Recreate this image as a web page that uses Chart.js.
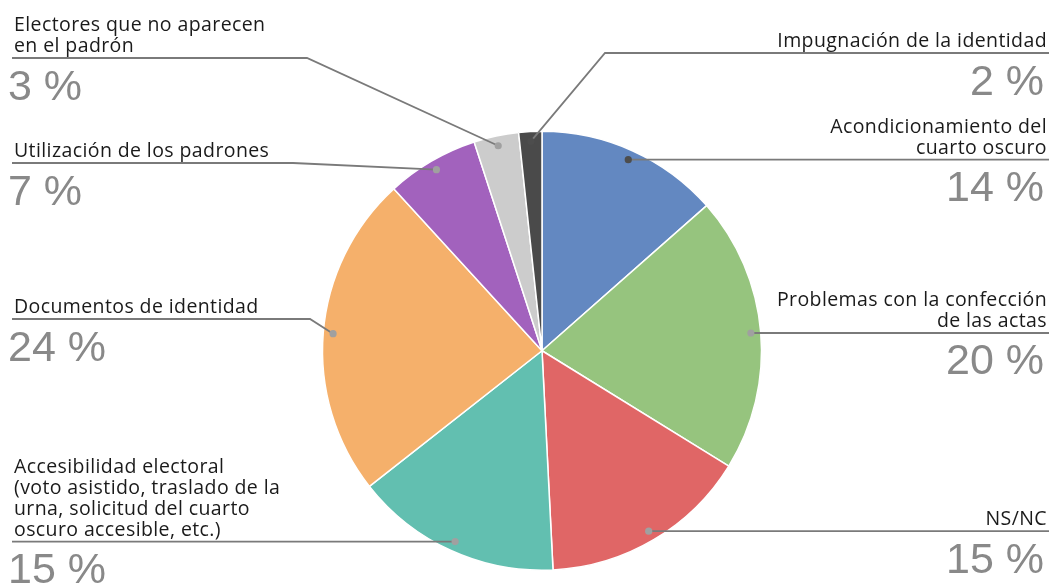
<!DOCTYPE html>
<html>
<head>
<meta charset="utf-8">
<script src="https://cdn.jsdelivr.net/npm/chart.js@4/dist/chart.umd.min.js"></script>
<style>
  html, body { margin: 0; padding: 0; background: #ffffff; }
  #wrap { width: 1060px; height: 585px; }
</style>
</head>
<body>
<div id="wrap"><canvas id="c" width="1060" height="585"></canvas></div>
<script>
// ---- data ----
const categories = [
  'Acondicionamiento del cuarto oscuro',
  'Problemas con la confección de las actas',
  'NS/NC',
  'Accesibilidad electoral (voto asistido, traslado de la urna, solicitud del cuarto oscuro accesible, etc.)',
  'Documentos de identidad',
  'Utilización de los padrones',
  'Electores que no aparecen en el padrón',
  'Impugnación de la identidad'
];
const values = [13.5, 20.3, 15.4, 15.2, 23.8, 6.8, 3.3, 1.7];
const percentLabels = ['14 %', '20 %', '15 %', '15 %', '24 %', '7 %', '3 %', '2 %'];
const labelLines = [
  ['Acondicionamiento del', 'cuarto oscuro'],
  ['Problemas con la confección', 'de las actas'],
  ['NS/NC'],
  ['Accesibilidad electoral', '(voto asistido, traslado de la', 'urna, solicitud del cuarto', 'oscuro accesible, etc.)'],
  ['Documentos de identidad'],
  ['Utilización de los padrones'],
  ['Electores que no aparecen', 'en el padrón'],
  ['Impugnación de la identidad']
];

// ---- styles / layout (kept separate from data) ----
const sliceColors = ['#6388c1', '#96c47e', '#e06666', '#62bfb0', '#f5b06b', '#a262bd', '#cccccc', '#4a4a4a'];
const dotColors   = ['#4d4d4d', '#a0a0a0', '#a0a0a0', '#a0a0a0', '#a0a0a0', '#a0a0a0', '#a0a0a0', '#4d4d4d'];
const labelLayout = [
  { side: 'right' },
  { side: 'right' },
  { side: 'right' },
  { side: 'left' },
  { side: 'left', y: 319, elbowX: 310 },
  { side: 'left', y: 163, elbowX: 293 },
  { side: 'left', y: 58,  elbowX: 307 },
  { side: 'right', y: 53, elbowX: 605 }
];

const leaderPlugin = {
  id: 'leaders',
  afterDraw(chart) {
    const ctx = chart.ctx;
    const meta = chart.getDatasetMeta(0);
    const W = chart.width;
    ctx.save();
    meta.data.forEach((arc, i) => {
      const p = arc.getProps(['x', 'y', 'startAngle', 'endAngle', 'outerRadius'], true);
      const mid = (p.startAngle + p.endAngle) / 2;
      const r = p.outerRadius * 0.955;
      const dx = p.x + Math.cos(mid) * r;
      const dy = p.y + Math.sin(mid) * r;
      const L = labelLayout[i];
      const lineY = (L.y !== undefined) ? L.y : dy;
      const elbowX = (L.elbowX !== undefined) ? L.elbowX : dx;
      const right = L.side === 'right';
      const endX = right ? W - 11 : 12;

      // leader line
      ctx.strokeStyle = '#7a7a7a';
      ctx.lineWidth = 1.8;
      ctx.beginPath();
      ctx.moveTo(dx, dy);
      ctx.lineTo(elbowX, lineY);
      ctx.lineTo(endX, lineY);
      ctx.stroke();

      // dot
      ctx.fillStyle = dotColors[i];
      ctx.beginPath();
      ctx.arc(dx, dy, 3.6, 0, Math.PI * 2);
      ctx.fill();

      // category text
      ctx.fillStyle = '#1a1a1a';
      ctx.font = '19.5px "Open Sans"';
      try { ctx.letterSpacing = '0.4px'; } catch (e) {}
      ctx.textBaseline = 'alphabetic';
      ctx.textAlign = right ? 'right' : 'left';
      const lines = labelLines[i];
      const tx = right ? W - 13 : 14;
      lines.forEach((t, k) => {
        const by = lineY - 6 - (lines.length - 1 - k) * 20.7;
        ctx.fillText(t, tx, by);
      });

      // percent text
      try { ctx.letterSpacing = '0px'; } catch (e) {}
      ctx.fillStyle = '#898989';
      ctx.font = '43px "Liberation Sans"';
      ctx.textAlign = right ? 'right' : 'left';
      ctx.fillText(percentLabels[i], right ? W - 16 : 8, lineY + 41.5);
    });
    ctx.restore();
  }
};

new Chart(document.getElementById('c'), {
  type: 'pie',
  data: {
    labels: categories,
    datasets: [{
      data: values,
      backgroundColor: sliceColors,
      borderColor: '#ffffff',
      borderWidth: 1.5
    }]
  },
  options: {
    responsive: false,
    devicePixelRatio: 1,
    animation: false,
    layout: { padding: { top: 130.5, bottom: 14, left: 212, right: 188 } },
    plugins: {
      legend: { display: false },
      tooltip: { enabled: false }
    }
  },
  plugins: [leaderPlugin]
});
</script>
</body>
</html>
